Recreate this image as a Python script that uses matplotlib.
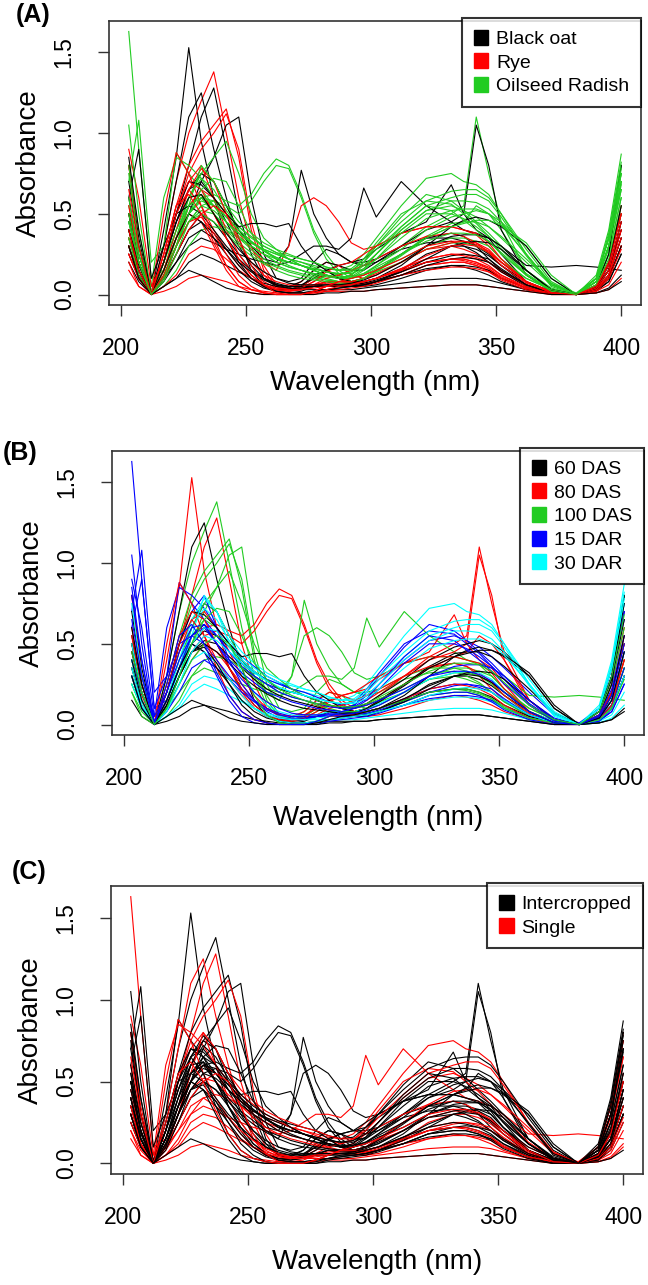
import matplotlib
matplotlib.use("Agg")
import matplotlib.pyplot as plt
from matplotlib.patches import Patch

plt.rcParams['font.family'] = ['Liberation Sans', 'DejaVu Sans']

# ---------------- data ----------------
wavelength = [203, 207, 212, 217, 222, 227, 232, 237, 242, 247, 252, 257, 262, 267, 272,
              277, 282, 287, 292, 297, 302, 312, 322, 332, 337, 342, 347, 352, 362, 372,
              382, 390, 395, 400]

# one spectrum per sample; group labels per sample below
spectra = [
  [0.45, 0.2, 0.0, 0.4, 0.85, 1.53, 0.95, 0.6, 0.35, 0.2, 0.1, 0.05, 0.03, 0.03, 0.05, 0.12, 0.15, 0.1, 0.08, 0.1, 0.15, 0.25, 0.35, 0.38, 0.36, 0.3, 0.22, 0.15, 0.06, 0.01, 0.0, 0.05, 0.2, 0.5],
  [0.3, 0.1, 0.0, 0.3, 0.7, 1.0, 1.2, 1.38, 1.0, 0.6, 0.3, 0.12, 0.05, 0.04, 0.08, 0.15, 0.2, 0.18, 0.12, 0.1, 0.12, 0.2, 0.28, 0.3, 0.28, 0.25, 0.2, 0.14, 0.06, 0.02, 0.0, 0.05, 0.15, 0.4],
  [1.63, 0.9, 0.1, 0.15, 0.35, 0.6, 0.75, 0.7, 0.55, 0.4, 0.3, 0.25, 0.22, 0.2, 0.18, 0.15, 0.12, 0.1, 0.12, 0.18, 0.25, 0.4, 0.52, 0.55, 0.52, 0.48, 0.42, 0.35, 0.2, 0.06, 0.01, 0.1, 0.35, 0.75],
  [0.6, 0.25, 0.0, 0.2, 0.5, 0.8, 1.1, 1.28, 0.9, 0.5, 0.25, 0.1, 0.05, 0.03, 0.05, 0.1, 0.12, 0.1, 0.06, 0.05, 0.06, 0.1, 0.15, 0.18, 0.17, 0.15, 0.12, 0.08, 0.03, 0.01, 0.0, 0.03, 0.1, 0.3],
  [0.8, 0.35, 0.0, 0.3, 0.7, 1.1, 1.25, 0.9, 0.6, 0.35, 0.15, 0.05, 0.02, 0.01, 0.02, 0.05, 0.08, 0.06, 0.05, 0.05, 0.08, 0.15, 0.25, 0.3, 0.3, 0.28, 0.24, 0.18, 0.08, 0.02, 0.0, 0.04, 0.15, 0.45],
  [0.25, 0.1, 0.0, 0.1, 0.3, 0.5, 0.7, 0.85, 1.05, 1.1, 0.6, 0.25, 0.1, 0.08, 0.1, 0.2, 0.28, 0.25, 0.2, 0.18, 0.2, 0.28, 0.32, 0.33, 0.3, 0.26, 0.2, 0.14, 0.05, 0.01, 0.0, 0.03, 0.12, 0.35],
  [0.35, 0.15, 0.0, 0.25, 0.55, 0.8, 0.95, 1.05, 1.15, 0.85, 0.4, 0.15, 0.05, 0.03, 0.05, 0.1, 0.15, 0.12, 0.08, 0.07, 0.08, 0.12, 0.18, 0.2, 0.2, 0.18, 0.15, 0.1, 0.04, 0.01, 0.0, 0.04, 0.12, 0.35],
  [0.3, 0.12, 0.0, 0.2, 0.5, 0.75, 0.9, 1.0, 1.12, 0.9, 0.45, 0.18, 0.06, 0.03, 0.04, 0.08, 0.12, 0.1, 0.07, 0.06, 0.08, 0.14, 0.2, 0.22, 0.21, 0.19, 0.16, 0.11, 0.04, 0.01, 0.0, 0.05, 0.15, 0.4],
  [0.4, 0.15, 0.0, 0.15, 0.35, 0.5, 0.6, 0.62, 0.58, 0.55, 0.62, 0.75, 0.84, 0.8, 0.62, 0.4, 0.25, 0.15, 0.1, 0.12, 0.18, 0.3, 0.42, 0.5, 0.55, 1.1, 0.75, 0.45, 0.15, 0.03, 0.0, 0.08, 0.3, 0.7],
  [0.35, 0.12, 0.0, 0.12, 0.3, 0.45, 0.55, 0.58, 0.55, 0.5, 0.58, 0.7, 0.8, 0.78, 0.6, 0.38, 0.22, 0.13, 0.08, 0.1, 0.15, 0.25, 0.35, 0.42, 0.45, 0.55, 0.5, 0.4, 0.15, 0.03, 0.0, 0.06, 0.25, 0.6],
  [0.3, 0.1, 0.0, 0.2, 0.45, 0.65, 0.75, 0.7, 0.55, 0.4, 0.3, 0.22, 0.2, 0.3, 0.77, 0.5, 0.35, 0.25, 0.2, 0.2, 0.22, 0.3, 0.35, 0.35, 0.33, 0.3, 0.25, 0.18, 0.06, 0.01, 0.0, 0.04, 0.12, 0.35],
  [0.25, 0.1, 0.0, 0.15, 0.35, 0.55, 0.65, 0.6, 0.5, 0.38, 0.28, 0.2, 0.15, 0.3, 0.55, 0.6, 0.55, 0.45, 0.32, 0.28, 0.3, 0.38, 0.42, 0.42, 0.4, 0.37, 0.3, 0.22, 0.08, 0.02, 0.0, 0.03, 0.1, 0.3],
  [0.2, 0.08, 0.0, 0.1, 0.2, 0.3, 0.35, 0.32, 0.28, 0.25, 0.22, 0.2, 0.18, 0.2, 0.25, 0.3, 0.3, 0.28, 0.35, 0.66, 0.48, 0.7, 0.55, 0.45, 0.4, 0.38, 0.35, 0.3, 0.18, 0.17, 0.18, 0.17, 0.16, 0.15],
  [0.35, 0.15, 0.0, 0.1, 0.3, 0.5, 0.6, 0.55, 0.45, 0.38, 0.32, 0.28, 0.25, 0.22, 0.2, 0.18, 0.16, 0.15, 0.18, 0.25, 0.35, 0.55, 0.72, 0.75, 0.7, 0.68, 0.62, 0.5, 0.25, 0.06, 0.0, 0.1, 0.35, 0.8],
  [0.4, 0.18, 0.0, 0.2, 0.45, 0.65, 0.7, 0.6, 0.45, 0.3, 0.18, 0.1, 0.06, 0.05, 0.08, 0.15, 0.2, 0.18, 0.15, 0.15, 0.2, 0.3, 0.4, 0.45, 0.5, 1.05, 0.8, 0.4, 0.12, 0.02, 0.0, 0.05, 0.2, 0.5],
  [0.3, 0.12, 0.0, 0.1, 0.25, 0.4, 0.5, 0.45, 0.35, 0.25, 0.15, 0.1, 0.06, 0.05, 0.06, 0.1, 0.15, 0.18, 0.2, 0.22, 0.28, 0.38, 0.45, 0.68, 0.5, 0.4, 0.35, 0.25, 0.08, 0.01, 0.0, 0.04, 0.15, 0.4],
  [0.7, 1.08, 0.2, 0.3, 0.88, 0.75, 0.65, 0.55, 0.45, 0.38, 0.32, 0.28, 0.25, 0.22, 0.18, 0.15, 0.12, 0.1, 0.12, 0.2, 0.3, 0.48, 0.62, 0.58, 0.52, 0.45, 0.38, 0.3, 0.15, 0.04, 0.0, 0.08, 0.3, 0.7],
  [0.5, 0.3, 0.05, 0.6, 0.85, 0.8, 0.72, 0.6, 0.5, 0.42, 0.36, 0.3, 0.26, 0.22, 0.2, 0.17, 0.14, 0.12, 0.14, 0.22, 0.32, 0.5, 0.58, 0.56, 0.5, 0.44, 0.36, 0.28, 0.13, 0.03, 0.0, 0.1, 0.3, 0.65],
  [0.4, 0.15, 0.0, 0.1, 0.35, 0.6, 0.72, 0.65, 0.52, 0.42, 0.35, 0.3, 0.26, 0.24, 0.22, 0.2, 0.17, 0.15, 0.16, 0.22, 0.3, 0.45, 0.58, 0.64, 0.65, 0.65, 0.6, 0.5, 0.28, 0.08, 0.0, 0.12, 0.4, 0.87],
  [0.55, 0.25, 0.0, 0.15, 0.35, 0.5, 0.58, 0.55, 0.48, 0.4, 0.33, 0.27, 0.22, 0.2, 0.18, 0.15, 0.12, 0.1, 0.1, 0.13, 0.18, 0.28, 0.4, 0.48, 0.5, 0.52, 0.5, 0.45, 0.3, 0.1, 0.0, 0.1, 0.35, 0.8],
  [0.45, 0.2, 0.0, 0.12, 0.3, 0.45, 0.52, 0.5, 0.42, 0.35, 0.28, 0.22, 0.18, 0.15, 0.13, 0.11, 0.09, 0.08, 0.08, 0.1, 0.15, 0.25, 0.36, 0.44, 0.45, 0.45, 0.42, 0.36, 0.22, 0.07, 0.0, 0.08, 0.28, 0.65],
  [0.3, 0.1, 0.0, 0.05, 0.15, 0.3, 0.4, 0.42, 0.4, 0.35, 0.3, 0.25, 0.2, 0.17, 0.15, 0.12, 0.1, 0.08, 0.08, 0.1, 0.14, 0.2, 0.28, 0.32, 0.32, 0.3, 0.26, 0.2, 0.1, 0.03, 0.0, 0.06, 0.2, 0.5],
  [0.5, 0.2, 0.0, 0.15, 0.4, 0.6, 0.75, 0.85, 0.95, 0.75, 0.5, 0.35, 0.28, 0.22, 0.18, 0.15, 0.12, 0.1, 0.1, 0.12, 0.16, 0.22, 0.3, 0.35, 0.35, 0.33, 0.3, 0.22, 0.1, 0.03, 0.0, 0.08, 0.25, 0.6],
  [0.8, 0.3, 0.0, 0.5, 0.88, 0.75, 0.55, 0.4, 0.28, 0.18, 0.1, 0.05, 0.03, 0.02, 0.03, 0.06, 0.1, 0.12, 0.15, 0.18, 0.22, 0.3, 0.36, 0.38, 0.36, 0.32, 0.26, 0.18, 0.07, 0.02, 0.0, 0.05, 0.2, 0.55],
  [0.35, 0.15, 0.0, 0.1, 0.3, 0.55, 0.62, 0.5, 0.35, 0.22, 0.12, 0.06, 0.03, 0.02, 0.03, 0.05, 0.08, 0.08, 0.07, 0.08, 0.1, 0.15, 0.2, 0.22, 0.22, 0.2, 0.17, 0.12, 0.05, 0.01, 0.0, 0.03, 0.1, 0.3],
  [0.9, 0.6, 0.05, 0.2, 0.5, 0.7, 0.8, 0.6, 0.4, 0.25, 0.15, 0.08, 0.04, 0.03, 0.03, 0.05, 0.07, 0.07, 0.07, 0.08, 0.1, 0.16, 0.22, 0.25, 0.25, 0.23, 0.2, 0.15, 0.06, 0.01, 0.0, 0.04, 0.12, 0.35],
  [0.4, 0.15, 0.0, 0.15, 0.4, 0.65, 0.78, 0.7, 0.5, 0.32, 0.2, 0.12, 0.08, 0.06, 0.05, 0.06, 0.08, 0.08, 0.08, 0.1, 0.13, 0.2, 0.28, 0.32, 0.33, 0.32, 0.28, 0.2, 0.08, 0.02, 0.0, 0.05, 0.15, 0.45],
  [0.6, 0.9, 0.1, 0.3, 0.5, 0.55, 0.5, 0.4, 0.3, 0.22, 0.15, 0.1, 0.07, 0.05, 0.05, 0.05, 0.05, 0.05, 0.05, 0.06, 0.08, 0.12, 0.16, 0.18, 0.18, 0.17, 0.15, 0.1, 0.04, 0.01, 0.0, 0.02, 0.08, 0.25],
  [0.3, 0.12, 0.0, 0.05, 0.1, 0.2, 0.25, 0.22, 0.18, 0.14, 0.1, 0.07, 0.05, 0.04, 0.03, 0.03, 0.03, 0.03, 0.03, 0.04, 0.05, 0.07, 0.09, 0.1, 0.1, 0.1, 0.09, 0.07, 0.03, 0.01, 0.0, 0.01, 0.04, 0.12],
  [0.7, 0.3, 0.0, 0.2, 0.5, 0.7, 0.68, 0.6, 0.5, 0.42, 0.44, 0.44, 0.42, 0.44, 0.3, 0.2, 0.15, 0.1, 0.08, 0.08, 0.1, 0.18, 0.3, 0.42, 0.46, 0.48, 0.46, 0.42, 0.3, 0.1, 0.0, 0.05, 0.25, 0.8],
  [0.5, 0.2, 0.0, 0.25, 0.55, 0.7, 0.65, 0.5, 0.35, 0.22, 0.12, 0.06, 0.03, 0.02, 0.04, 0.08, 0.14, 0.18, 0.2, 0.25, 0.3, 0.38, 0.42, 0.42, 0.4, 0.38, 0.32, 0.22, 0.08, 0.01, 0.0, 0.06, 0.2, 0.5],
  [0.35, 0.12, 0.0, 0.1, 0.3, 0.55, 0.8, 0.7, 0.55, 0.45, 0.38, 0.32, 0.28, 0.25, 0.22, 0.2, 0.17, 0.15, 0.15, 0.2, 0.28, 0.42, 0.55, 0.6, 0.62, 0.62, 0.58, 0.48, 0.25, 0.07, 0.0, 0.1, 0.35, 0.75],
  [0.8, 0.4, 0.02, 0.15, 0.35, 0.55, 0.62, 0.55, 0.45, 0.36, 0.3, 0.25, 0.2, 0.17, 0.15, 0.13, 0.11, 0.1, 0.11, 0.16, 0.25, 0.42, 0.55, 0.52, 0.46, 0.4, 0.33, 0.25, 0.12, 0.03, 0.0, 0.06, 0.22, 0.55],
  [0.25, 0.1, 0.0, 0.05, 0.12, 0.25, 0.3, 0.28, 0.22, 0.15, 0.1, 0.06, 0.04, 0.03, 0.03, 0.04, 0.05, 0.06, 0.06, 0.07, 0.08, 0.12, 0.15, 0.17, 0.17, 0.16, 0.14, 0.1, 0.04, 0.01, 0.0, 0.02, 0.06, 0.2],
  [0.4, 0.2, 0.0, 0.08, 0.2, 0.35, 0.4, 0.35, 0.28, 0.2, 0.14, 0.09, 0.06, 0.04, 0.04, 0.05, 0.06, 0.06, 0.06, 0.07, 0.09, 0.14, 0.2, 0.24, 0.25, 0.24, 0.22, 0.16, 0.06, 0.01, 0.0, 0.03, 0.08, 0.25],
  [0.15, 0.05, 0.0, 0.02, 0.05, 0.1, 0.12, 0.1, 0.08, 0.05, 0.03, 0.02, 0.01, 0.01, 0.01, 0.01, 0.02, 0.02, 0.02, 0.02, 0.03, 0.04, 0.05, 0.06, 0.06, 0.06, 0.05, 0.04, 0.02, 0.0, 0.0, 0.01, 0.03, 0.1],
  [0.55, 0.2, 0.0, 0.2, 0.5, 0.65, 0.55, 0.35, 0.18, 0.08, 0.03, 0.01, 0.0, 0.0, 0.0, 0.02, 0.05, 0.06, 0.06, 0.08, 0.1, 0.16, 0.22, 0.25, 0.24, 0.22, 0.18, 0.12, 0.04, 0.0, 0.0, 0.03, 0.12, 0.4],
  [0.3, 0.1, 0.0, 0.15, 0.35, 0.5, 0.45, 0.3, 0.15, 0.05, 0.01, 0.0, 0.0, 0.0, 0.0, 0.0, 0.02, 0.03, 0.04, 0.05, 0.07, 0.12, 0.18, 0.2, 0.2, 0.18, 0.14, 0.09, 0.03, 0.0, 0.0, 0.02, 0.1, 0.3],
  [1.05, 0.5, 0.0, 0.2, 0.4, 0.55, 0.6, 0.5, 0.4, 0.32, 0.26, 0.2, 0.17, 0.14, 0.12, 0.1, 0.09, 0.08, 0.1, 0.15, 0.22, 0.38, 0.5, 0.5, 0.47, 0.42, 0.36, 0.28, 0.12, 0.02, 0.0, 0.08, 0.3, 0.7],
  [0.75, 0.3, 0.0, 0.1, 0.3, 0.5, 0.6, 0.58, 0.48, 0.4, 0.33, 0.27, 0.23, 0.2, 0.18, 0.16, 0.14, 0.13, 0.14, 0.18, 0.25, 0.4, 0.52, 0.58, 0.58, 0.57, 0.53, 0.45, 0.24, 0.05, 0.0, 0.1, 0.38, 0.82],
  [0.5, 0.2, 0.0, 0.15, 0.35, 0.5, 0.45, 0.35, 0.25, 0.15, 0.08, 0.04, 0.02, 0.01, 0.01, 0.02, 0.03, 0.04, 0.05, 0.06, 0.08, 0.14, 0.22, 0.3, 0.32, 0.33, 0.32, 0.28, 0.15, 0.03, 0.0, 0.04, 0.18, 0.55],
  [0.4, 0.15, 0.0, 0.1, 0.25, 0.4, 0.45, 0.38, 0.28, 0.18, 0.1, 0.05, 0.02, 0.01, 0.01, 0.02, 0.03, 0.04, 0.05, 0.06, 0.08, 0.12, 0.18, 0.22, 0.23, 0.22, 0.2, 0.15, 0.06, 0.01, 0.0, 0.03, 0.1, 0.3],
  [0.6, 0.25, 0.0, 0.12, 0.3, 0.45, 0.5, 0.45, 0.38, 0.3, 0.24, 0.19, 0.15, 0.12, 0.1, 0.09, 0.08, 0.07, 0.07, 0.1, 0.14, 0.24, 0.35, 0.42, 0.44, 0.46, 0.46, 0.43, 0.32, 0.12, 0.0, 0.08, 0.3, 0.75],
  [0.2, 0.05, 0.0, 0.1, 0.25, 0.4, 0.5, 0.55, 0.5, 0.35, 0.18, 0.06, 0.01, 0.0, 0.0, 0.02, 0.05, 0.08, 0.08, 0.08, 0.1, 0.15, 0.2, 0.22, 0.22, 0.2, 0.16, 0.1, 0.04, 0.01, 0.0, 0.03, 0.1, 0.28],
  [0.85, 0.4, 0.0, 0.2, 0.45, 0.6, 0.62, 0.5, 0.38, 0.28, 0.2, 0.14, 0.1, 0.07, 0.06, 0.06, 0.06, 0.06, 0.07, 0.09, 0.12, 0.2, 0.3, 0.36, 0.37, 0.37, 0.35, 0.3, 0.15, 0.03, 0.0, 0.04, 0.15, 0.45],
  [0.4, 0.15, 0.0, 0.12, 0.3, 0.45, 0.48, 0.38, 0.25, 0.12, 0.05, 0.01, 0.0, 0.0, 0.0, 0.01, 0.03, 0.05, 0.06, 0.08, 0.1, 0.16, 0.24, 0.3, 0.31, 0.3, 0.26, 0.2, 0.08, 0.01, 0.0, 0.04, 0.15, 0.45],
  [0.5, 0.2, 0.0, 0.08, 0.25, 0.45, 0.55, 0.52, 0.45, 0.38, 0.32, 0.27, 0.23, 0.2, 0.18, 0.16, 0.14, 0.13, 0.13, 0.16, 0.22, 0.35, 0.47, 0.52, 0.53, 0.53, 0.5, 0.43, 0.25, 0.06, 0.0, 0.1, 0.35, 0.78],
  [0.3, 0.1, 0.0, 0.05, 0.1, 0.15, 0.12, 0.08, 0.04, 0.02, 0.01, 0.0, 0.0, 0.0, 0.0, 0.0, 0.01, 0.01, 0.02, 0.02, 0.03, 0.04, 0.05, 0.06, 0.06, 0.06, 0.05, 0.04, 0.02, 0.0, 0.0, 0.01, 0.03, 0.08],
  [0.65, 0.3, 0.0, 0.25, 0.55, 0.62, 0.5, 0.32, 0.18, 0.08, 0.03, 0.01, 0.0, 0.0, 0.0, 0.02, 0.05, 0.08, 0.1, 0.12, 0.15, 0.22, 0.3, 0.33, 0.33, 0.31, 0.27, 0.2, 0.08, 0.01, 0.0, 0.05, 0.18, 0.5],
  [0.45, 0.2, 0.0, 0.1, 0.3, 0.5, 0.65, 0.72, 0.7, 0.55, 0.38, 0.28, 0.22, 0.18, 0.15, 0.13, 0.12, 0.11, 0.11, 0.13, 0.17, 0.25, 0.33, 0.38, 0.38, 0.37, 0.33, 0.26, 0.12, 0.03, 0.0, 0.08, 0.3, 0.68],
]

species = ["Black oat", "Rye", "Oilseed Radish", "Black oat", "Black oat", "Black oat",
           "Rye", "Rye", "Oilseed Radish", "Oilseed Radish", "Black oat", "Rye",
           "Black oat", "Oilseed Radish", "Black oat", "Black oat", "Oilseed Radish", "Oilseed Radish",
           "Oilseed Radish", "Oilseed Radish", "Oilseed Radish", "Oilseed Radish", "Oilseed Radish", "Rye",
           "Rye", "Rye", "Rye", "Black oat", "Black oat", "Black oat",
           "Rye", "Oilseed Radish", "Oilseed Radish", "Rye", "Black oat", "Rye",
           "Rye", "Rye", "Oilseed Radish", "Oilseed Radish", "Black oat", "Black oat",
           "Oilseed Radish", "Rye", "Black oat", "Rye", "Oilseed Radish", "Black oat",
           "Rye", "Oilseed Radish"]
sampling = ["80 DAS", "100 DAS", "15 DAR", "80 DAS", "60 DAS", "100 DAS",
            "100 DAS", "100 DAS", "80 DAS", "80 DAS", "100 DAS", "100 DAS",
            "100 DAS", "30 DAR", "80 DAS", "80 DAS", "15 DAR", "15 DAR",
            "30 DAR", "60 DAS", "60 DAS", "100 DAS", "100 DAS", "80 DAS",
            "60 DAS", "15 DAR", "30 DAR", "15 DAR", "30 DAR", "60 DAS",
            "80 DAS", "30 DAR", "15 DAR", "30 DAR", "15 DAR", "60 DAS",
            "80 DAS", "15 DAR", "15 DAR", "30 DAR", "60 DAS", "30 DAR",
            "60 DAS", "100 DAS", "15 DAR", "60 DAS", "30 DAR", "60 DAS",
            "15 DAR", "100 DAS"]
system = ["Intercropped", "Intercropped", "Single", "Single", "Single", "Intercropped",
          "Intercropped", "Single", "Intercropped", "Intercropped", "Intercropped", "Intercropped",
          "Single", "Single", "Intercropped", "Intercropped", "Intercropped", "Single",
          "Intercropped", "Intercropped", "Single", "Single", "Intercropped", "Single",
          "Intercropped", "Single", "Intercropped", "Intercropped", "Single", "Intercropped",
          "Intercropped", "Single", "Intercropped", "Single", "Single", "Single",
          "Intercropped", "Intercropped", "Intercropped", "Intercropped", "Intercropped", "Intercropped",
          "Intercropped", "Single", "Intercropped", "Intercropped", "Intercropped", "Intercropped",
          "Single", "Intercropped"]

species_levels = ["Black oat", "Rye", "Oilseed Radish"]
sampling_levels = ["60 DAS", "80 DAS", "100 DAS", "15 DAR", "30 DAR"]
system_levels = ["Intercropped", "Single"]

# R default palette colours
pal = ["#000000", "#FF0000", "#22CC22", "#0000FF", "#00FFFF"]

# ---------------- figure ----------------
W, H = 648, 1285
fig = plt.figure(figsize=(W / 100, H / 100), dpi=100)

def box(l, t, r, b):
  return [l / W, 1 - b / H, (r - l) / W, (b - t) / H]

panels = [
  ("(A)", species, species_levels, box(109, 21, 641, 305), (33, 15), 383),
  ("(B)", sampling, sampling_levels, box(112, 451, 644, 735), (20, 453), 818),
  ("(C)", system, system_levels, box(111, 886, 643, 1174), (29, 872), 1262),
]

for tag, groups, levels, rect, tagpos, laby in panels:
  ax = fig.add_axes(rect)
  for spec, g in zip(spectra, groups):
    ax.plot(wavelength, spec, color=pal[levels.index(g)], lw=0.8)
  ax.set_xlim(195.1, 407.9)
  ax.set_ylim(-0.065, 1.695)
  ax.set_xticks([200, 250, 300, 350, 400])
  ax.set_yticks([0.0, 0.5, 1.0, 1.5])
  ax.set_yticklabels(["0.0", "0.5", "1.0", "1.5"], rotation=90, va="center")
  ax.tick_params(axis="both", direction="out", length=8, width=1.0, labelsize=16.5, color="#333333")
  ax.tick_params(axis="x", pad=15)
  ax.tick_params(axis="y", pad=16)
  for s in ax.spines.values():
    s.set_linewidth(1.2)
    s.set_color("#333333")

  ax.set_ylabel("Absorbance", fontsize=20, labelpad=8)
  fig.text(0.5 * (rect[0] * 2 + rect[2]), 1 - laby / H, "Wavelength (nm)",
           fontsize=20, ha="center", va="center")
  fig.text(tagpos[0] / W, 1 - tagpos[1] / H, tag, fontsize=18, fontweight="bold",
           ha="center", va="center")

  handles = [Patch(facecolor=pal[i], edgecolor=pal[i]) for i in range(len(levels))]
  leg = ax.legend(handles, levels, loc="upper right", bbox_to_anchor=(1.0, 1.01),
                  borderaxespad=0, fontsize=14, frameon=True, fancybox=False,
                  handlelength=0.75, handleheight=0.8, handletextpad=0.4,
                  labelspacing=0.28, borderpad=0.6)
  leg.get_frame().set_edgecolor("black")
  leg.get_frame().set_linewidth(1.5)

fig.savefig("out.png", dpi=100)
